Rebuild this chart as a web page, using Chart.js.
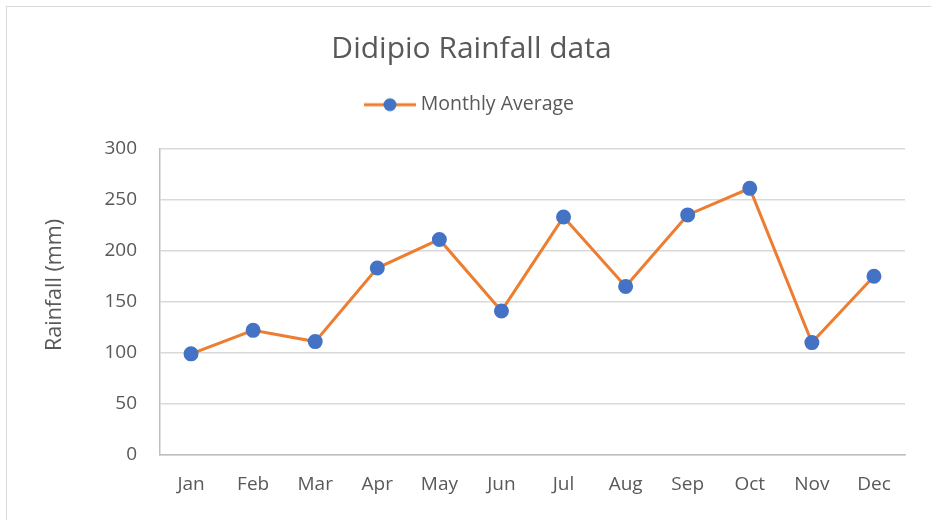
<!DOCTYPE html>
<html>
<head>
<meta charset="utf-8">
<script src="https://cdn.jsdelivr.net/npm/chart.js@4.4.1/dist/chart.umd.min.js"></script>
<style>
  body { margin: 0; background: #fff; }
  #wrap { position: relative; width: 931px; height: 520px; overflow: hidden; }
  #frame { position: absolute; left: 6px; top: 6px; width: 960px; height: 560px; border: 1.5px solid #d9d9d9; }
  canvas { position: absolute; left: 0; top: 0; }
</style>
</head>
<body>
<div id="wrap">
  <div id="frame"></div>
  <canvas id="rainChart" width="931" height="520"></canvas>
</div>
<script>
// DATA
const months = ["Jan", "Feb", "Mar", "Apr", "May", "Jun", "Jul", "Aug", "Sep", "Oct", "Nov", "Dec"];
const monthlyAverage = [99, 122, 111, 183, 211, 141, 233, 165, 235, 261, 110, 175];
const yTicks = [0, 50, 100, 150, 200, 250, 300];

const FONT = "'Open Sans', sans-serif";
const TEXT = "#595959";

// legend swatch: line with a dot, like Excel
const swatch = document.createElement("canvas");
swatch.width = 52;
swatch.height = 16;
const sctx = swatch.getContext("2d");
sctx.strokeStyle = "#ED7D31";
sctx.lineWidth = 3;
sctx.beginPath();
sctx.moveTo(0, 8);
sctx.lineTo(52, 8);
sctx.stroke();
sctx.fillStyle = "#4472C4";
sctx.beginPath();
sctx.arc(26, 8, 6.5, 0, Math.PI * 2);
sctx.fill();

// extra gap under the legend
const legendGap = {
  id: "legendGap",
  beforeInit(chart) {
    const fit = chart.legend.fit;
    chart.legend.fit = function () {
      fit.bind(chart.legend)();
      this.height += 24;
    };
  }
};

const ctx = document.getElementById("rainChart").getContext("2d");
new Chart(ctx, {
  type: "line",
  data: {
    labels: months,
    datasets: [{
      label: "Monthly Average",
      data: monthlyAverage,
      borderColor: "#ED7D31",
      borderWidth: 3,
      backgroundColor: "#4472C4",
      pointBackgroundColor: "#4472C4",
      pointBorderColor: "#4472C4",
      pointRadius: 6,
      pointStyle: "circle",
      tension: 0
    }]
  },
  options: {
    responsive: false,
    animation: false,
    layout: { padding: { left: 38, right: 26, top: 0, bottom: 0 } },
    plugins: {
      title: {
        display: true,
        text: "Didipio Rainfall data",
        color: TEXT,
        font: { family: FONT, size: 30, weight: "normal" },
        padding: { top: 31, bottom: 18 }
      },
      legend: {
        position: "top",
        labels: {
          color: TEXT,
          font: { family: FONT, size: 19.5 },
          usePointStyle: true,
          pointStyle: swatch,
          pointStyleWidth: 42,
          boxHeight: 16,
          padding: 10
        }
      },
      tooltip: { enabled: false }
    },
    scales: {
      x: {
        offset: true,
        grid: { display: false, drawTicks: false },
        border: { display: true, color: "#BFBFBF", width: 1.5 },
        ticks: { color: TEXT, font: { family: FONT, size: 19 }, padding: 18, maxRotation: 0 },
        afterFit(scale) { scale.height = 65; }
      },
      y: {
        min: 0,
        max: 300,
        afterBuildTicks(scale) { scale.ticks = yTicks.map(v => ({ value: v })); },
        grid: { color: "#D9D9D9", lineWidth: 1.5, drawTicks: false },
        border: { display: true, color: "#BFBFBF", width: 1.5 },
        ticks: { color: TEXT, font: { family: FONT, size: 19 }, padding: 23 },
        title: {
          display: true,
          // leading spaces nudge the text up, as in the original
          text: "      Rainfall (mm)",
          color: TEXT,
          font: { family: FONT, size: 21.5 },
          padding: 4
        },
        afterFit(scale) { scale.width = 122; }
      }
    }
  },
  plugins: [legendGap]
});
</script>
</body>
</html>
